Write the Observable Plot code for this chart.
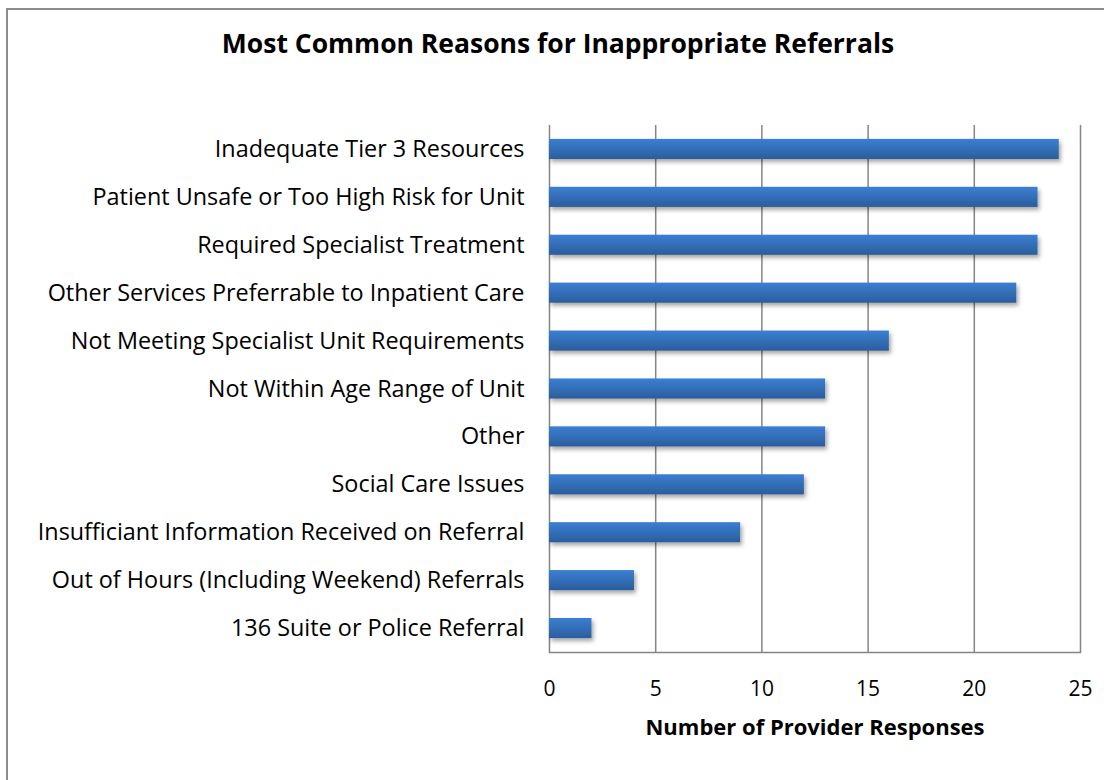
<!DOCTYPE html>
<html><head><meta charset="utf-8">
<script src="https://cdn.jsdelivr.net/npm/d3@7"></script>
<script src="https://cdn.jsdelivr.net/npm/@observablehq/plot@0.6"></script>
<style>
html,body{margin:0;padding:0;background:#fff;overflow:hidden;width:1104px;height:780px;}
#frame{position:absolute;left:6px;top:8px;width:1200px;height:900px;border-left:2px solid #8c8c8c;border-top:2px solid #8c8c8c;box-sizing:border-box;}
#title{position:absolute;left:0;top:25px;width:1116px;text-align:center;font-family:"Open Sans",sans-serif;font-weight:bold;font-size:26.5px;color:#000;}
#chart{position:absolute;left:0;top:100px;}
</style></head>
<body>
<div id="frame"></div>
<div id="title">Most Common Reasons for Inappropriate Referrals</div>
<div id="chart"></div>
<script>
const categories = [
  "Inadequate Tier 3 Resources",
  "Patient Unsafe or Too High Risk for Unit",
  "Required Specialist Treatment",
  "Other Services Preferrable to Inpatient Care",
  "Not Meeting Specialist Unit Requirements",
  "Not Within Age Range of Unit",
  "Other",
  "Social Care Issues",
  "Insufficiant Information Received on Referral",
  "Out of Hours (Including Weekend) Referrals",
  "136 Suite or Police Referral"
];
const values = [24, 23, 23, 22, 16, 13, 13, 12, 9, 4, 2];
const xTicks = [0, 5, 10, 15, 20, 25];
const xLabel = "Number of Provider Responses";

const data = categories.map((c, i) => ({category: c, value: values[i]}));

const plot = Plot.plot({
  width: 1104,
  height: 660,
  marginLeft: 549,
  marginRight: 24,
  marginTop: 25,
  marginBottom: 108,
  style: {fontFamily: "'Open Sans', sans-serif", fontSize: "21px", color: "#000", background: "transparent"},
  x: {domain: [0, 25], ticks: xTicks},
  y: {domain: categories, paddingInner: 0.58, paddingOuter: 0.29, round: false},
  marks: [
    Plot.ruleX(xTicks, {stroke: "#858585", strokeWidth: 1.5, strokeOpacity: 1}),
    Plot.frame({anchor: "bottom", stroke: "#858585", strokeWidth: 1.5}),
    Plot.barX(data, {x: "value", y: "category", fill: "url(#barGrad)"}),
    Plot.axisX({ticks: xTicks, tickSize: 0, tickPadding: 29, fontSize: 21, label: null}),
    Plot.axisX({ticks: [], tickSize: 0, label: xLabel, labelAnchor: "center", labelArrow: "none", labelOffset: 82, fontSize: 22}),
    Plot.axisY({tickSize: 0, tickPadding: 25, fontSize: 23.4, label: null})
  ]
});

const svg = d3.select(plot);
const defs = svg.insert("defs", ":first-child");
const g = defs.append("linearGradient").attr("id", "barGrad").attr("x1", 0).attr("y1", 0).attr("x2", 0).attr("y2", 1);
g.append("stop").attr("offset", "0%").attr("stop-color", "#3b7fd3");
g.append("stop").attr("offset", "100%").attr("stop-color", "#2b5d9c");
const f = defs.append("filter").attr("id", "barShadow").attr("x", "-10%").attr("y", "-30%").attr("width", "130%").attr("height", "180%");
f.append("feDropShadow").attr("dx", 2).attr("dy", 3).attr("stdDeviation", 2.2).attr("flood-color", "#000").attr("flood-opacity", 0.35);
svg.selectAll("rect").filter(function(){ return this.getAttribute("fill") === "url(#barGrad)" || (this.parentNode && this.parentNode.getAttribute("fill") === "url(#barGrad)"); }).attr("filter", "url(#barShadow)");
svg.selectAll("[aria-label='x-axis label'] text, [aria-label='x-axis label']").attr("font-weight", "bold");
document.getElementById("chart").appendChild(plot);
</script>
</body></html>
